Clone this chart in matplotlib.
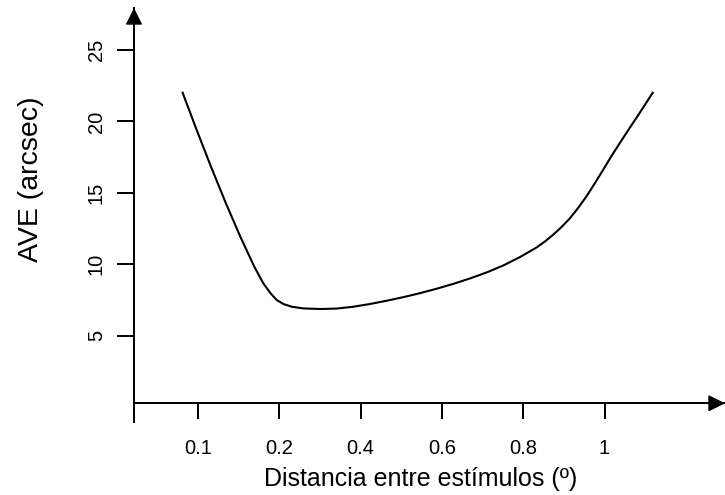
import matplotlib
matplotlib.use("Agg")
import matplotlib.pyplot as plt

plt.rcParams['font.family'] = ['Liberation Sans', 'DejaVu Sans']

# category positions on the x axis (equally spaced labels)
x_tick_labels = ['0.1', '0.2', '0.4', '0.6', '0.8', '1']
x_tick_pos = [0, 1, 2, 3, 4, 5]
y_ticks = [5, 10, 15, 20, 25]

# curve (x in category-position units, y in arcsec)
curve_x = [-0.189, -0.016, 0.160, 0.344, 0.521, 0.693, 0.804, 0.894, 0.968,
           1.050, 1.152, 1.296, 1.501, 1.706, 1.911, 2.116, 2.321, 2.526,
           2.731, 2.936, 3.141, 3.346, 3.551, 3.756, 3.961, 4.166, 4.268,
           4.371, 4.473, 4.576, 4.678, 4.781, 4.883, 4.986, 5.088, 5.191,
           5.293, 5.396, 5.498, 5.593]
curve_y = [22.01, 19.40, 16.83, 14.26, 11.93, 9.83, 8.66, 7.96, 7.50,
           7.22, 7.03, 6.91, 6.87, 6.90, 7.03, 7.22, 7.45, 7.70,
           7.98, 8.29, 8.63, 9.01, 9.43, 9.92, 10.51, 11.18, 11.60,
           12.08, 12.62, 13.23, 13.96, 14.78, 15.69, 16.64, 17.60, 18.51,
           19.40, 20.28, 21.17, 22.01]

x_axis_cross = 0.27

fig = plt.figure(figsize=(7.25, 4.95), dpi=100)
ax = fig.add_axes([134/725, (495-422)/495, (725-134)/725, (422-8)/495])

ax.plot(curve_x, curve_y, color='black', lw=1.5, solid_joinstyle='round')

ax.set_xlim(-0.787, 6.482)
ax.set_ylim(-1.04, 27.94)

for s in ['top', 'right']:
    ax.spines[s].set_visible(False)
ax.spines['left'].set_linewidth(1.44)
ax.spines['bottom'].set_linewidth(1.44)
ax.spines['bottom'].set_position(('data', x_axis_cross))

ax.set_xticks(x_tick_pos)
ax.set_xticklabels(x_tick_labels, fontsize=14.5)
ax.set_yticks(y_ticks)
ax.set_yticklabels([str(v) for v in y_ticks], fontsize=14.5, rotation=90, va='center')
ax.tick_params(axis='x', direction='out', length=11.5, width=1.44, pad=14)
ax.tick_params(axis='y', direction='out', length=12.2, width=1.44, pad=8)

# axis arrows
ax.annotate('', xy=(0, 1), xytext=(0, 0.95), xycoords='axes fraction',
            arrowprops=dict(arrowstyle='-|>,head_length=0.4,head_width=0.2',
                            mutation_scale=26, color='black', lw=1.0,
                            shrinkA=0, shrinkB=0))
ax.annotate('', xy=(1, x_axis_cross), xytext=(0.95, x_axis_cross),
            xycoords=ax.get_yaxis_transform(),
            arrowprops=dict(arrowstyle='-|>,head_length=0.4,head_width=0.2',
                            mutation_scale=26, color='black', lw=1.0,
                            shrinkA=0, shrinkB=0))

ax.set_xlabel('Distancia entre estímulos (º)', fontsize=18)
ax.xaxis.label.set_va('center')
ax.xaxis.set_label_coords((421-134)/591, (422-479)/414)
ax.set_ylabel('AVE (arcsec)', fontsize=20.5)
ax.yaxis.label.set_va('center')
ax.yaxis.set_label_coords((31-134)/591, (422-179)/414)

fig.savefig('out.png', dpi=100)
